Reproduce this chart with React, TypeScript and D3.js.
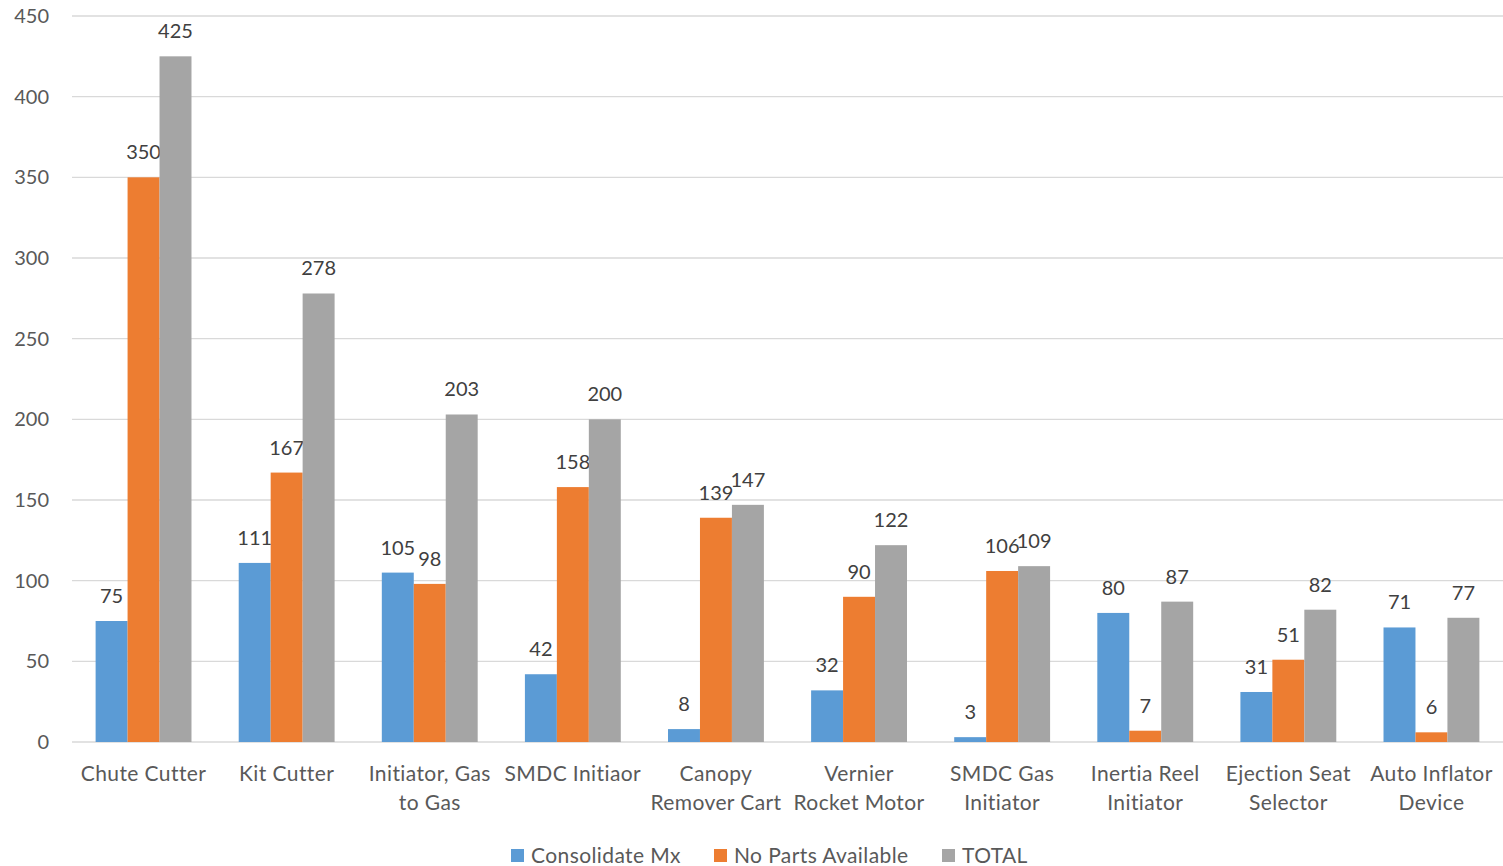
import { useEffect, useRef } from 'react'
import * as d3 from 'd3'

const categories = [
  'Chute Cutter',
  'Kit Cutter',
  'Initiator, Gas\nto Gas',
  'SMDC Initiaor',
  'Canopy\nRemover Cart',
  'Vernier\nRocket Motor',
  'SMDC Gas\nInitiator',
  'Inertia Reel\nInitiator',
  'Ejection Seat\nSelector',
  'Auto Inflator\nDevice',
]
const consolidateMx = [75, 111, 105, 42, 8, 32, 3, 80, 31, 71]
const noPartsAvailable = [350, 167, 98, 158, 139, 90, 106, 7, 51, 6]
const total = [425, 278, 203, 200, 147, 122, 109, 87, 82, 77]
const yTicks = [0, 50, 100, 150, 200, 250, 300, 350, 400, 450]

const seriesNames = ['Consolidate Mx', 'No Parts Available', 'TOTAL']
const seriesColors = ['#5B9BD5', '#ED7D31', '#A5A5A5']

const FONT = 'Lato, Calibri, "Noto Sans", sans-serif'

export default function App() {
  const ref = useRef<SVGSVGElement>(null)

  useEffect(() => {
    document.body.style.margin = '0'
    const el = ref.current
    if (!el) return
    const width = 1503
    const height = 866
    const margin = { top: 16, right: 0, bottom: 124, left: 72 }
    const svg = d3.select(el)
    svg.selectAll('*').remove()

    const series = [consolidateMx, noPartsAvailable, total]

    const x = d3
      .scaleBand()
      .domain(categories)
      .range([margin.left, width - margin.right])
      .paddingInner(0.33)
      .paddingOuter(0.165)

    const xs = d3.scaleBand<number>().domain([0, 1, 2]).range([0, x.bandwidth()])

    const y = d3
      .scaleLinear()
      .domain([0, 450])
      .range([height - margin.bottom, margin.top])

    // grid
    svg
      .append('g')
      .selectAll('line')
      .data(yTicks)
      .join('line')
      .attr('x1', margin.left)
      .attr('x2', width - margin.right)
      .attr('y1', (d) => y(d))
      .attr('y2', (d) => y(d))
      .attr('stroke', '#D9D9D9')
      .attr('stroke-width', 1.3)

    // y labels
    svg
      .append('g')
      .selectAll('text')
      .data(yTicks)
      .join('text')
      .attr('x', 49)
      .attr('y', (d) => y(d))
      .attr('dy', '0.35em')
      .attr('text-anchor', 'end')
      .attr('fill', '#595959')
      .style('font-family', FONT)
      .style('font-size', '20px')
      .text((d) => d)

    // bars
    series.forEach((vals, si) => {
      const g = svg.append('g')
      g.selectAll('rect')
        .data(vals)
        .join('rect')
        .attr('x', (_, i) => (x(categories[i]) || 0) + (xs(si) || 0))
        .attr('width', xs.bandwidth())
        .attr('y', (d) => y(d))
        .attr('height', (d) => y(0) - y(d))
        .attr('fill', seriesColors[si])

      g.selectAll('text')
        .data(vals)
        .join('text')
        .attr('x', (_, i) => (x(categories[i]) || 0) + (xs(si) || 0) + xs.bandwidth() / 2)
        .attr('y', (d) => y(d) - 18)
        .attr('text-anchor', 'middle')
        .attr('fill', '#404040')
        .style('font-family', FONT)
        .style('font-size', '20px')
        .text((d) => d)
    })

    // category labels
    const cat = svg
      .append('g')
      .selectAll('text')
      .data(categories)
      .join('text')
      .attr('x', (d) => (x(d) || 0) + x.bandwidth() / 2)
      .attr('y', 781)
      .attr('text-anchor', 'middle')
      .attr('fill', '#595959')
      .style('font-family', FONT)
      .style('font-size', '21px')
      .style('letter-spacing', '0.4px')
    cat
      .selectAll('tspan')
      .data((d) => d.split('\n'))
      .join('tspan')
      .attr('x', function () {
        return d3.select((this as SVGTSpanElement).parentNode as SVGTextElement).attr('x')
      })
      .attr('dy', (_, i) => (i === 0 ? 0 : 29))
      .text((d) => d)

    // legend
    const legendX = [511, 714, 942]
    const lg = svg.append('g')
    seriesNames.forEach((name, i) => {
      lg.append('rect')
        .attr('x', legendX[i])
        .attr('y', 849)
        .attr('width', 13)
        .attr('height', 13)
        .attr('fill', seriesColors[i])
      lg.append('text')
        .attr('x', legendX[i] + 20)
        .attr('y', 863)
        .attr('fill', '#595959')
        .style('font-family', FONT)
        .style('font-size', '21px')
        .style('letter-spacing', '0.4px')
        .text(name)
    })
  }, [])

  return <svg ref={ref} width={1503} height={866} style={{ display: 'block', background: '#fff' }} />
}
